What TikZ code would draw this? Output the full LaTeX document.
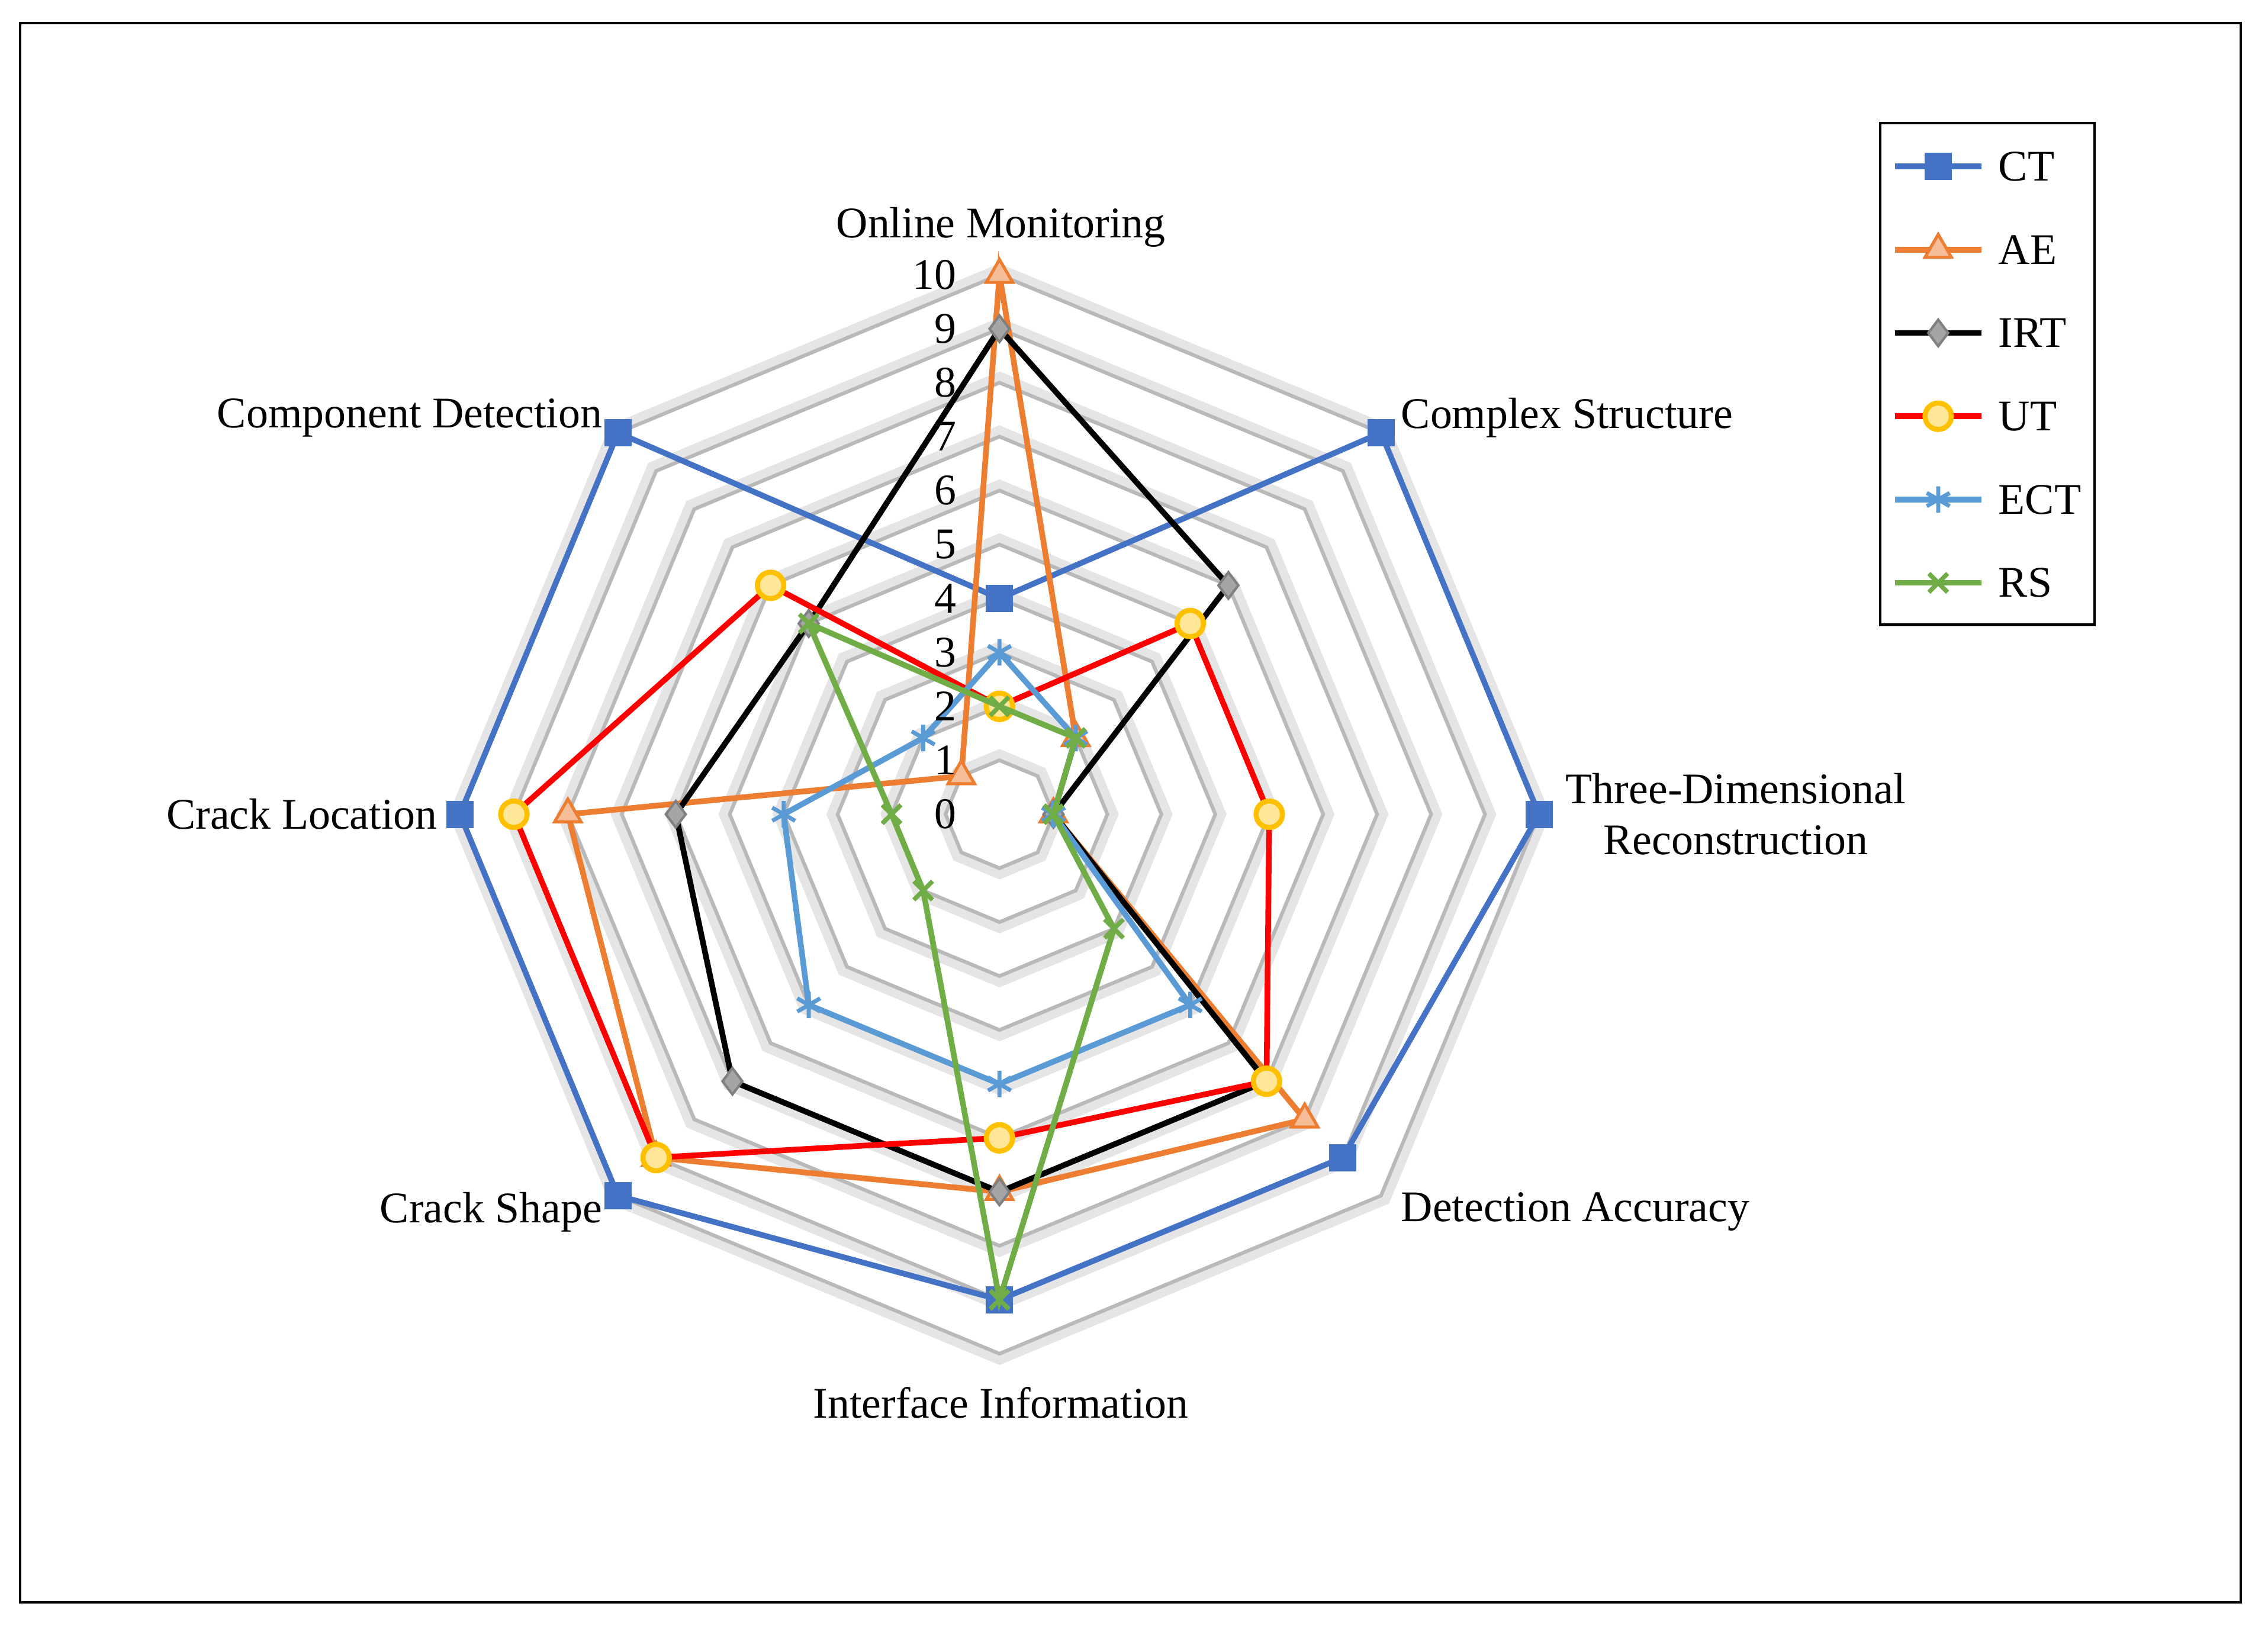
\documentclass[tikz,border=0pt]{standalone}
\usepackage{fontspec}
\setmainfont{Liberation Serif}
\usetikzlibrary{plotmarks}
\definecolor{ctBlue}{HTML}{4472C4}
\definecolor{aeOrange}{HTML}{ED7D31}
\definecolor{irtGrey}{HTML}{A5A5A5}
\definecolor{utYellow}{HTML}{FFC000}
\definecolor{ectBlue}{HTML}{5B9BD5}
\definecolor{rsGreen}{HTML}{70AD47}
\begin{document}
\begin{tikzpicture}[x=0.025cm,y=-0.025cm,
  txt/.style={font=\fontsize{21.5}{25}\selectfont, inner sep=1pt},
  grid/.style={draw=gray!55, line width=1.8pt},
  shadow/.style={draw=gray!20, line width=5pt},
  ct/.style={draw=ctBlue, line width=2.8pt},
  ae/.style={draw=aeOrange, line width=2.8pt},
  irt/.style={draw=black, line width=2.8pt},
  ut/.style={draw=red, line width=2.8pt},
  ect/.style={draw=ectBlue, line width=2.8pt},
  rs/.style={draw=rsGreen, line width=2.8pt},
  ctm/.style={mark=square*, mark size=6.5pt, mark options={draw=ctBlue, fill=ctBlue, solid}},
  aem/.style={mark=triangle*, mark size=7.5pt, mark options={draw=aeOrange, fill=aeOrange!50, line width=1.5pt}},
  irtm/.style={mark=diamond*, mark size=6.5pt, mark options={draw=gray, fill=irtGrey, line width=1.2pt}},
  utm/.style={mark=*, mark size=6.5pt, mark options={draw=utYellow, fill=utYellow!40, line width=2.5pt}},
  ectm/.style={mark=asterisk, mark size=6.5pt, mark options={draw=ectBlue, line width=2pt}},
  rsm/.style={mark=x, mark size=6.5pt, mark options={draw=rsGreen, line width=2.2pt}}
]
  \useasboundingbox (0,0) rectangle (1568,1126);
  \draw[line width=1.2pt] (14,16) rectangle (1549,1108);
  % grid octagons
  \begin{scope}[shift={(691,563)}]
    \foreach \r in {1,...,10} {
      \draw[shadow] (-90:{\r*37.3+4}) \foreach \a in {-45,0,...,225} { -- (\a:{\r*37.3+4}) } -- cycle;
      \draw[grid] (-90:{\r*37.3}) \foreach \a in {-45,0,...,225} { -- (\a:{\r*37.3}) } -- cycle;
    }
    % data series
    \foreach \sty/\vals in {ct/{4,10,10,9,9,10,10,10}, ae/{10,2,1,8,7,9,8,1},
        irt/{9,6,1,7,7,7,6,5}, ut/{2,5,5,7,6,9,9,6},
        ect/{3,2,1,5,5,5,4,2}, rs/{2,2,1,3,9,2,2,5}} {
      \foreach \v [count=\k from 0] in \vals {
        \coordinate (\sty\k) at ({45*\k-90}:{\v*37.3});
      }
      \draw[\sty] (\sty0) -- (\sty1) -- (\sty2) -- (\sty3) -- (\sty4) -- (\sty5) -- (\sty6) -- (\sty7) -- cycle;
      \foreach \k in {0,...,7} {
        \path plot[\sty m] coordinates {(\sty\k)};
      }
    }
  \end{scope}
  % scale numbers
  \foreach \i in {0,...,10} {
    \node[txt, anchor=east] (n\i) at (663,{563-37.3*\i}) {\i};
  }
  % axis labels
  \node[txt] (om) at (692,157) {Online Monitoring};
  \node[txt, anchor=west] (cs) at (967,289) {Complex Structure};
  \node[txt, align=center] (tdr) at (1200,563) {Three-Dimensional\\Reconstruction};
  \node[txt, anchor=west] (da) at (967,838) {Detection Accuracy};
  \node[txt] (ii) at (692,970) {Interface Information};
  \node[txt, anchor=east] (csh) at (418,838) {Crack Shape};
  \node[txt, anchor=east] (cl) at (304,563) {Crack Location};
  \node[txt, anchor=east] (cd) at (418,289) {Component Detection};
  % legend
  \draw[line width=1.2pt] (1300,85) rectangle (1448,432);
  \foreach \sty/\name [count=\j from 0] in {ct/CT, ae/AE, irt/IRT, ut/UT, ect/ECT, rs/RS} {
    \coordinate (l\j a) at (1310,{115+57.6*\j});
    \coordinate (l\j b) at (1370,{115+57.6*\j});
    \draw[\sty] (l\j a) -- (l\j b);
    \path plot[\sty m] coordinates {(1340,{115+57.6*\j})};
    \node[txt, anchor=west] (leg\j) at (1380,{115+57.6*\j}) {\name};
  }
\end{tikzpicture}
\end{document}
